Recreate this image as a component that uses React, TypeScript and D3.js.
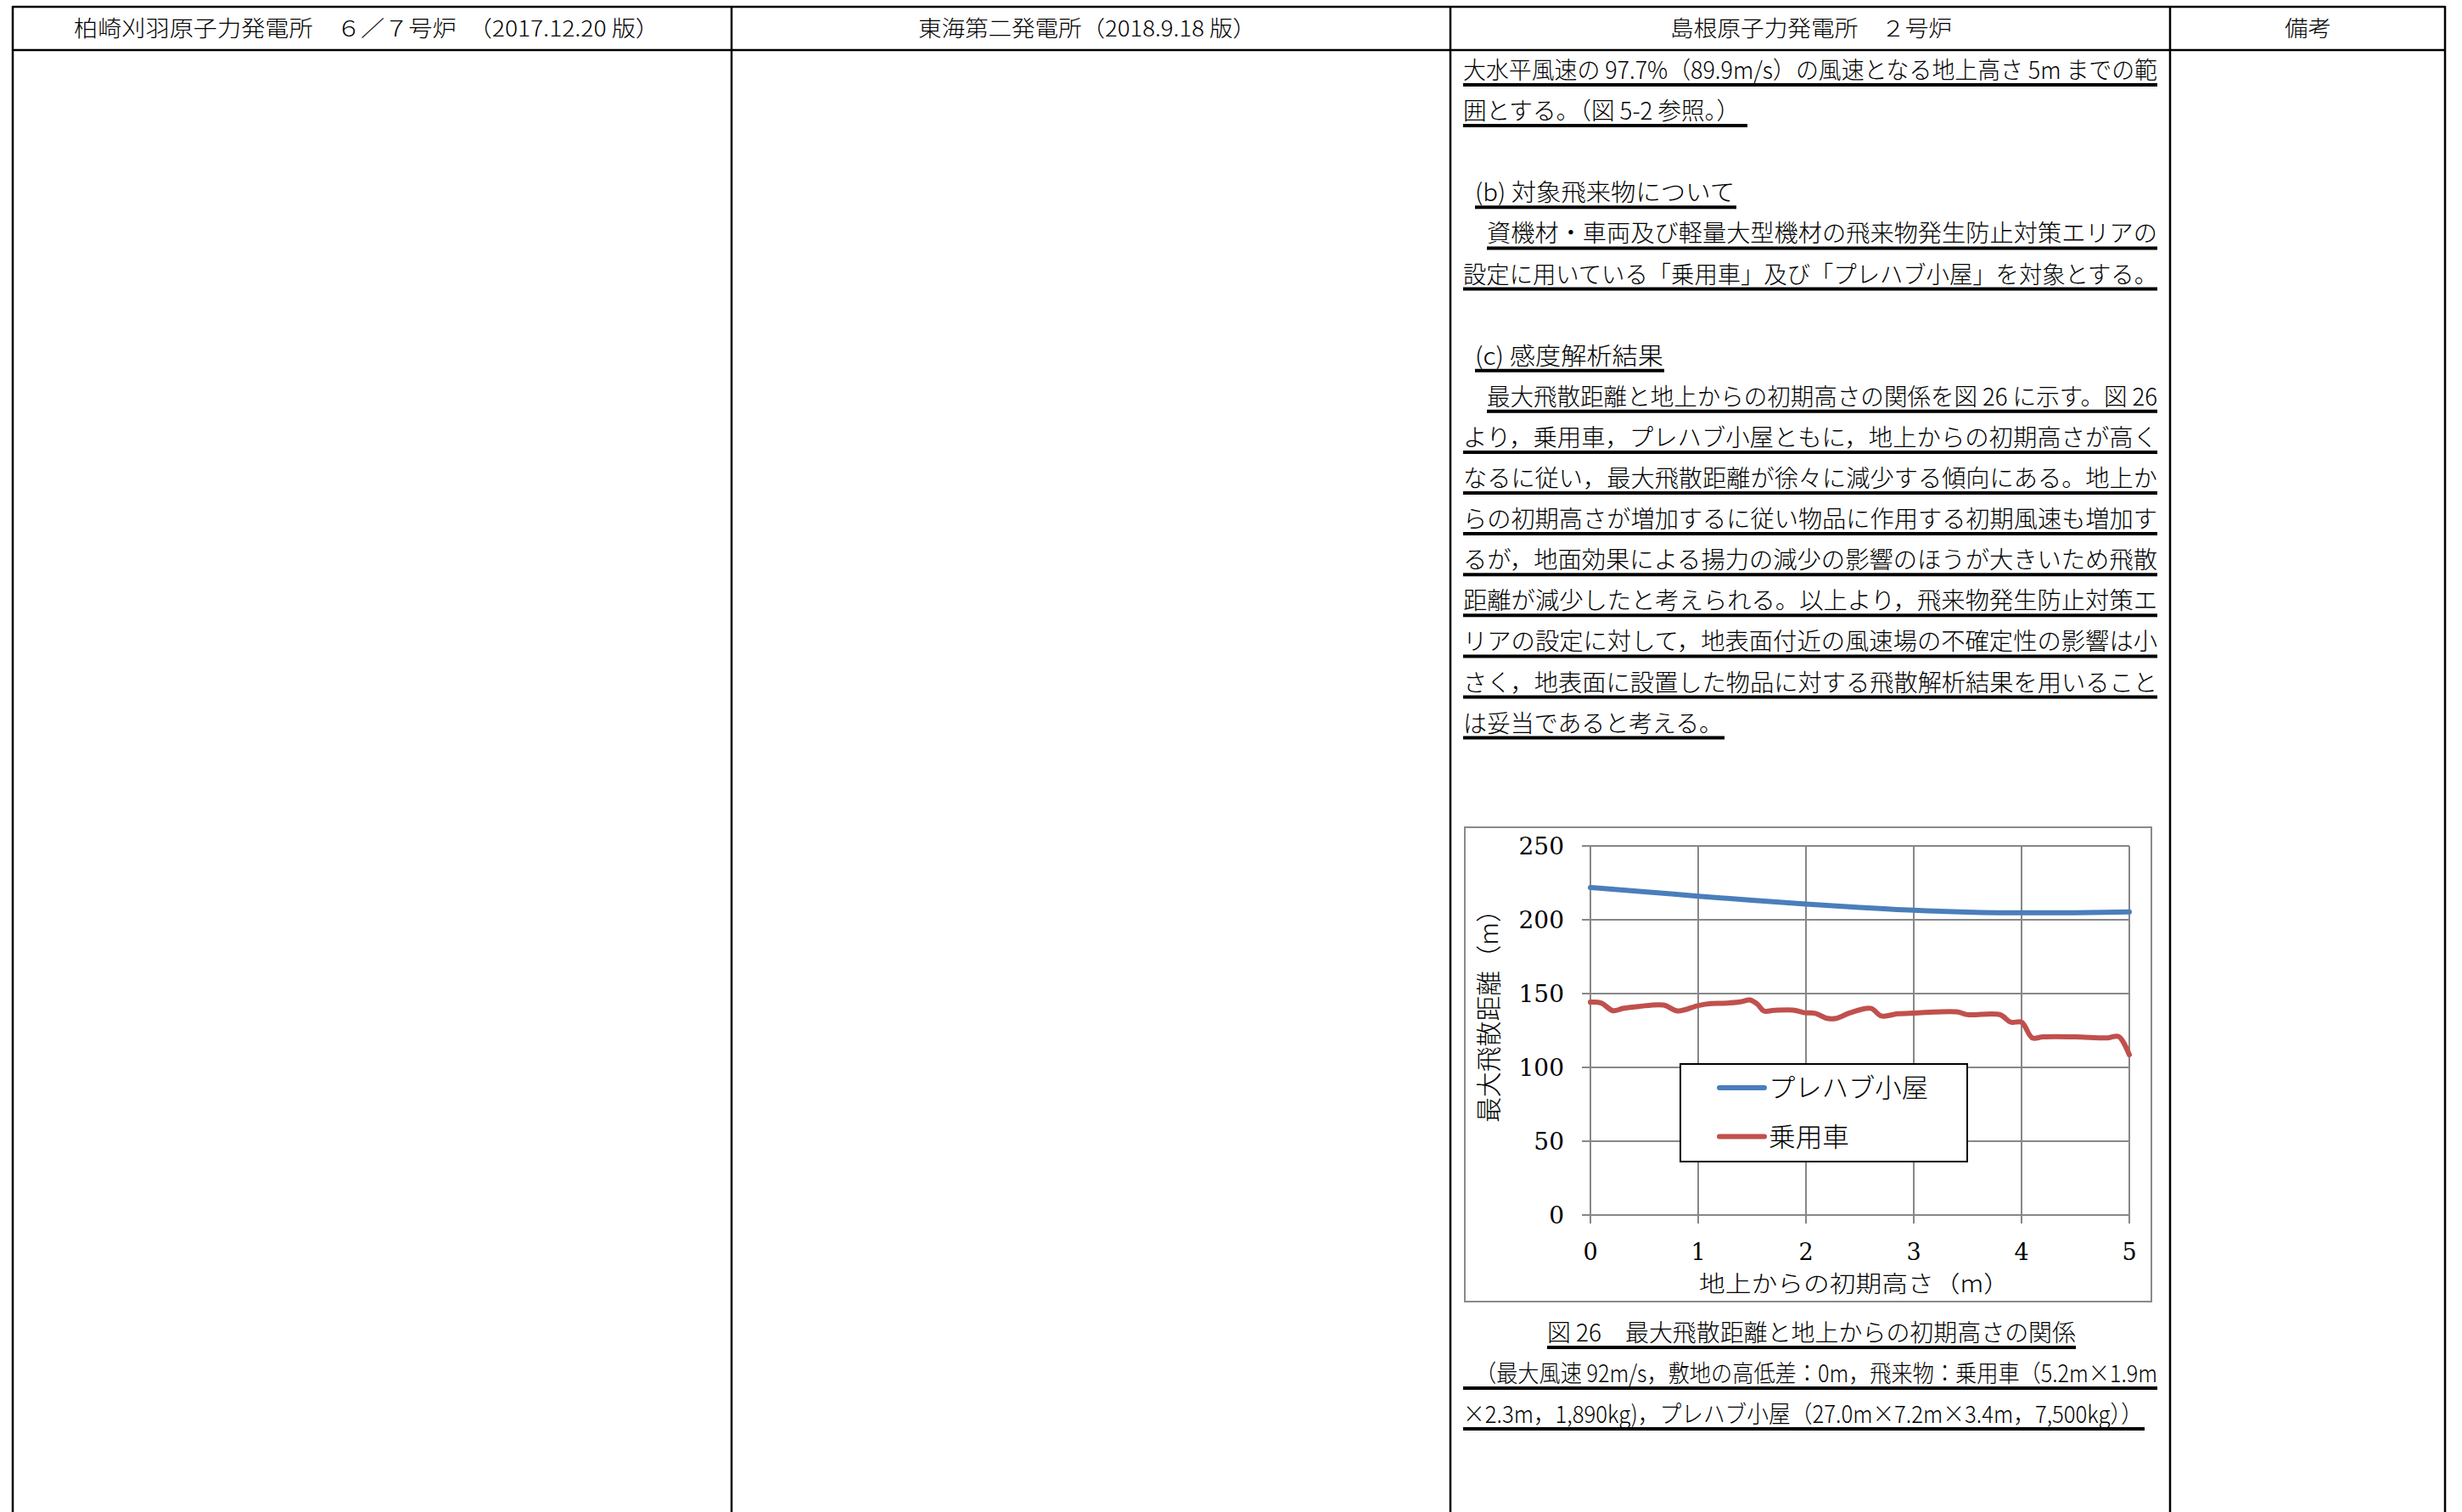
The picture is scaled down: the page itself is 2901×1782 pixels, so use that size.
import React from "react";
import * as d3 from "d3";

// ---- chart data ----
const xTicks = [0, 1, 2, 3, 4, 5];
const yTicks = [0, 50, 100, 150, 200, 250];
const prefabX = [0, 0.5, 1, 1.5, 2, 2.5, 3, 3.5, 4, 4.5, 5];
const prefabY = [221.8, 219, 216, 213.2, 210.6, 208.3, 206.4, 205.2, 204.7, 204.8, 205.3];
const carX = [0, 0.1, 0.21, 0.3, 0.45, 0.68, 0.81, 1.0, 1.12, 1.23, 1.39, 1.48, 1.55, 1.61, 1.7, 1.88, 1.99, 2.08, 2.2, 2.28, 2.41, 2.6, 2.7, 2.85, 3.0, 3.4, 3.5, 3.8, 3.9, 4.0, 4.1, 4.2, 4.5, 4.8, 4.9, 5.0];
const carY = [144.2, 143.6, 138.4, 139.9, 141.3, 142.2, 138.2, 141.9, 143.2, 143.4, 144.4, 145.7, 142.8, 138.2, 138.6, 138.8, 137, 136.7, 133.2, 133.2, 137, 140, 134.8, 136.3, 136.8, 137.6, 135.7, 135.7, 130.6, 130.6, 120, 120.7, 120.7, 120, 120.9, 108.6];
const seriesNames = ["プレハブ小屋", "乗用車"];
const seriesColors = ["#4A7EBB", "#C0504D"];
const xTitle = "地上からの初期高さ（m）";
const yTitle = "最大飛散距離（m）";

// ---- page text ----
const headers = [
  "柏崎刈羽原子力発電所　６／７号炉　（2017.12.20 版）",
  "東海第二発電所（2018.9.18 版）",
  "島根原子力発電所　２号炉",
  "備考",
];
const bodyText = [
  "大水平風速の 97.7%（89.9m/s）の風速となる地上高さ 5m までの範",
  "囲とする。（図 5-2 参照。）",
  "",
  "(b) 対象飛来物について",
  "資機材・車両及び軽量大型機材の飛来物発生防止対策エリアの",
  "設定に用いている「乗用車」及び「プレハブ小屋」を対象とする。",
  "",
  "(c) 感度解析結果",
  "最大飛散距離と地上からの初期高さの関係を図 26 に示す。図 26",
  "より，乗用車，プレハブ小屋ともに，地上からの初期高さが高く",
  "なるに従い，最大飛散距離が徐々に減少する傾向にある。地上か",
  "らの初期高さが増加するに従い物品に作用する初期風速も増加す",
  "るが，地面効果による揚力の減少の影響のほうが大きいため飛散",
  "距離が減少したと考えられる。以上より，飛来物発生防止対策エ",
  "リアの設定に対して，地表面付近の風速場の不確定性の影響は小",
  "さく，地表面に設置した物品に対する飛散解析結果を用いること",
  "は妥当であると考える。",
];
const captionText = [
  "図 26　最大飛散距離と地上からの初期高さの関係",
  "（最大風速 92m/s，敷地の高低差：0m，飛来物：乗用車（5.2m×1.9m",
  "×2.3m，1,890kg)，プレハブ小屋（27.0m×7.2m×3.4m，7,500kg））",
];

// layout (x start, text end, underline end)
const bodyLayout: [number, number, number][] = [
  [1724, 2542, 2542], [1724, 2050, 2059], [0, 0, 0], [1738, 2044, 2046], [1752, 2542, 2542],
  [1724, 2542, 2542], [0, 0, 0], [1738, 1960, 1961], [1752, 2542, 2542], [1724, 2542, 2542],
  [1724, 2542, 2542], [1724, 2542, 2542], [1724, 2542, 2542], [1724, 2542, 2542], [1724, 2542, 2542],
  [1724, 2542, 2542], [1724, 2030, 2032],
];
const captionLayout: [number, number, number, number][] = [
  [1823, 2446, 1823, 2446], [1738, 2542, 1724, 2542], [1724, 2525, 1724, 2527],
];

const colX = [15, 862, 1709, 2557, 2881];
const headerLayout: [number, number][] = [[87, 777], [1082, 1480], [1968, 2300], [2692, 2747]];

const CJK = "'Noto Sans CJK JP', 'Noto Sans', sans-serif";
const SERIF = "'DejaVu Serif', 'Liberation Serif', serif";

export default function App() {
  const x = d3.scaleLinear().domain([0, 5]).range([1874, 2509]);
  const y = d3.scaleLinear().domain([0, 250]).range([1432, 997]);

  const prefab = prefabX.map((v, i) => [v, prefabY[i]] as [number, number]);
  const car = carX.map((v, i) => [v, carY[i]] as [number, number]);
  const lineSmooth = d3.line<[number, number]>().x((d) => x(d[0])).y((d) => y(d[1])).curve(d3.curveMonotoneX);
  const lineCar = d3.line<[number, number]>().x((d) => x(d[0])).y((d) => y(d[1])).curve(d3.curveCatmullRom.alpha(0.5));

  const grid = "#878787";
  const lineY0 = 83;
  const pitch = 48.1;

  return (
    <svg width={2901} height={1782} style={{ position: "absolute", left: 0, top: 0, display: "block", background: "#fff" }}>
      <rect x={0} y={0} width={2901} height={1782} fill="#fff" />
      {/* table */}
      <line x1={colX[0]} x2={colX[4]} y1={8} y2={8} stroke="#000" strokeWidth={2.5} />
      <line x1={colX[0]} x2={colX[4]} y1={59} y2={59} stroke="#000" strokeWidth={2.5} />
      {colX.map((cx, i) => (
        <line key={i} x1={cx} x2={cx} y1={7} y2={1782} stroke="#000" strokeWidth={2.5} />
      ))}
      {headers.map((h, i) => (
        <text key={i} x={headerLayout[i][0]} y={43} fontFamily={CJK} fontWeight={300} fontSize={26} fill="#000"
          textLength={headerLayout[i][1] - headerLayout[i][0]} lengthAdjust="spacingAndGlyphs">{h}</text>
      ))}

      {/* body text */}
      {bodyText.map((t, i) => {
        if (!t) return null;
        const [x0, x1, u1] = bodyLayout[i];
        const cy = lineY0 + pitch * i;
        return (
          <g key={i}>
            <text x={x0} y={cy + 10} fontFamily={CJK} fontWeight={300} fontSize={28} fill="#000"
              textLength={x1 - x0} lengthAdjust="spacingAndGlyphs">{t}</text>
            <line x1={x0} x2={u1} y1={cy + 17} y2={cy + 17} stroke="#000" strokeWidth={4} />
          </g>
        );
      })}

      {/* chart frame */}
      <rect x={1726} y={975} width={809} height={559} fill="#fff" stroke="#8a8a8a" strokeWidth={2} />
      {yTicks.map((v) => (
        <line key={"gy" + v} x1={x(0) - 10} x2={x(5)} y1={y(v)} y2={y(v)} stroke={grid} strokeWidth={2} />
      ))}
      {xTicks.map((v) => (
        <line key={"gx" + v} x1={x(v)} x2={x(v)} y1={y(250)} y2={y(0) + 10} stroke={grid} strokeWidth={2} />
      ))}
      {yTicks.map((v) => (
        <text key={"ty" + v} x={1843} y={y(v) + 10} textAnchor="end" fontFamily={SERIF} fontSize={28} fill="#000">{v}</text>
      ))}
      {xTicks.map((v) => (
        <text key={"tx" + v} x={x(v)} y={1485} textAnchor="middle" fontFamily={SERIF} fontSize={27} fill="#000">{v}</text>
      ))}
      <text x={2185} y={1523} textAnchor="middle" fontFamily={CJK} fontWeight={300} fontSize={27} fill="#000"
        textLength={366} lengthAdjust="spacingAndGlyphs">{xTitle}</text>
      <text transform="translate(1765,1190) rotate(-90)" textAnchor="middle" fontFamily={CJK} fontWeight={300} fontSize={30} fill="#000"
        textLength={266} lengthAdjust="spacingAndGlyphs">{yTitle}</text>

      <path d={lineSmooth(prefab) || ""} fill="none" stroke={seriesColors[0]} strokeWidth={6} strokeLinecap="round" />
      <path d={lineCar(car) || ""} fill="none" stroke={seriesColors[1]} strokeWidth={6} strokeLinecap="round" strokeLinejoin="round" />

      {/* legend */}
      <rect x={1980} y={1254} width={338} height={115} fill="#fff" stroke="#000" strokeWidth={2} />
      {seriesNames.map((n, i) => {
        const ly = 1282 + i * 57.5;
        return (
          <g key={n}>
            <line x1={2026} x2={2079} y1={ly} y2={ly} stroke={seriesColors[i]} strokeWidth={6} strokeLinecap="round" />
            <text x={2084} y={ly + 11} fontFamily={CJK} fontWeight={300} fontSize={31} fill="#000"
              textLength={i === 0 ? 188 : 95} lengthAdjust="spacingAndGlyphs">{n}</text>
          </g>
        );
      })}

      {/* caption */}
      {captionText.map((t, i) => {
        const [x0, x1, u0, u1] = captionLayout[i];
        const cy = 1571 + 48 * i;
        return (
          <g key={"c" + i}>
            <text x={x0} y={cy + 10} fontFamily={CJK} fontWeight={300} fontSize={28} fill="#000"
              textLength={x1 - x0} lengthAdjust="spacingAndGlyphs">{t}</text>
            <line x1={u0} x2={u1} y1={cy + 17} y2={cy + 17} stroke="#000" strokeWidth={4} />
          </g>
        );
      })}
    </svg>
  );
}
